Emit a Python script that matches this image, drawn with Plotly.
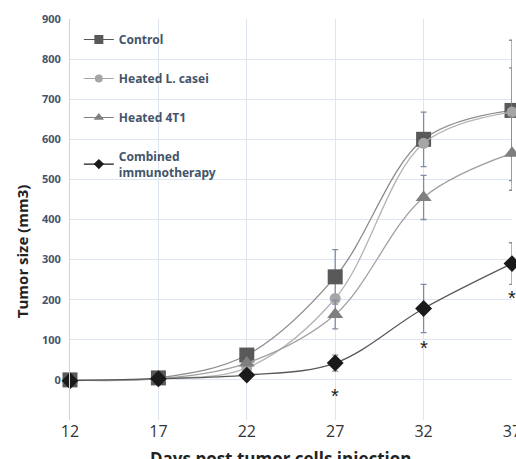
import plotly.graph_objects as go

days = [12, 17, 22, 27, 32, 37]
series_names = ["Control", "Heated L. casei", "Heated 4T1", "Combined<br>immunotherapy"]
control = [0, 5, 62, 257, 600, 672]
control_err = [0, 0, 0, 68, 68, 175]
lcasei = [0, 3, 30, 203, 590, 668]
lcasei_err = [0, 0, 0, 0, 0, 110]
t41 = [0, 3, 42, 163, 455, 565]
t41_err = [0, 0, 0, 36, 55, 92]
combined = [-2, 3, 12, 42, 178, 290]
combined_err = [0, 0, 0, 20, 60, 52]
sig_days = [27, 32, 37]
sig_y = [-40, 80, 205]
x_title = "Days post tumor cells injection"
y_title = "Tumor size (mm3)"

series_values = [control, lcasei, t41, combined]
series_errs = [control_err, lcasei_err, t41_err, combined_err]
marker_symbols = ["square", "circle", "triangle-up", "diamond"]
marker_colors = ["#595959", "#a6a6a6", "#7f7f7f", "#1a1a1a"]
marker_sizes = [15, 11, 14, 13]
legend_marker_sizes = [9, 8, 9, 8]
line_colors = ["#8c8c8c", "#b3b3b3", "#a0a0a0", "#595959"]
legend_line_colors = ["#595959", "#a6a6a6", "#7f7f7f", "#1a1a1a"]

fig = go.Figure()
for i in range(4):
    fig.add_trace(go.Scatter(
        x=days, y=series_values[i], name=series_names[i],
        mode="lines+markers",
        line=dict(color=line_colors[i], width=1.3, shape="spline", smoothing=1),
        marker=dict(symbol=marker_symbols[i], color=marker_colors[i], size=marker_sizes[i]),
        error_y=dict(type="data", array=series_errs[i], visible=True,
                     color="#7f8ea3", thickness=1.3, width=3),
        legendgroup=str(i), showlegend=False, cliponaxis=False,
    ))
    # legend entry with the small legend-style symbol
    fig.add_trace(go.Scatter(
        x=[None], y=[None], name=series_names[i], mode="lines+markers",
        line=dict(color=legend_line_colors[i], width=1.2),
        marker=dict(symbol=marker_symbols[i], color=marker_colors[i],
                    size=legend_marker_sizes[i]),
        legendgroup=str(i), showlegend=True,
    ))

for d, v in zip(sig_days, sig_y):
    fig.add_annotation(x=d, y=v, xref="x", yref="y", text="*", showarrow=False,
                       font=dict(size=20, color="#222222", family="Liberation Sans"))

fig.add_annotation(text=x_title, xref="paper", yref="paper", x=0.477, y=-0.095,
                   xanchor="center", yanchor="middle", showarrow=False,
                   font=dict(size=17, color="#222222", family="Open Sans", weight="bold"))
fig.add_annotation(text=y_title, xref="paper", yref="paper", x=-0.1086, y=0.421,
                   xanchor="center", yanchor="middle", showarrow=False, textangle=-90,
                   font=dict(size=15, color="#222222", family="Open Sans", weight="bold"))

fig.update_layout(
    width=516, height=459,
    margin=dict(l=70, r=4, t=19, b=39, autoexpand=False),
    paper_bgcolor="white", plot_bgcolor="white",
    font=dict(family="Open Sans"),
    legend=dict(x=0.02, y=0.985, xanchor="left", yanchor="top",
                bgcolor="rgba(0,0,0,0)", traceorder="grouped", tracegroupgap=20,
                font=dict(size=12, color="#44546a", family="Noto Sans", weight="bold"),
                itemwidth=30),
    xaxis=dict(range=[12, 37], tickvals=days, showgrid=True, gridcolor="#dde5ee",
               gridwidth=1, zeroline=False, showline=False, automargin=False,
               ticklabeloverflow="allow",
               tickfont=dict(size=16, color="#333333", family="Open Sans")),
    yaxis=dict(range=[-100, 900], tickvals=[0, 100, 200, 300, 400, 500, 600, 700, 800, 900],
               showgrid=True, gridcolor="#dde5ee", gridwidth=1, zeroline=False,
               showline=True, linecolor="#c9d6e6", linewidth=1, automargin=False,
               tickfont=dict(size=11, color="#44546a", family="Noto Sans", weight="bold"),
               ticklabelstandoff=6),
)

fig.write_html("out.html", config={"displayModeBar": False},
               post_script="document.body.style.margin='0px';document.body.style.overflow='hidden';")
